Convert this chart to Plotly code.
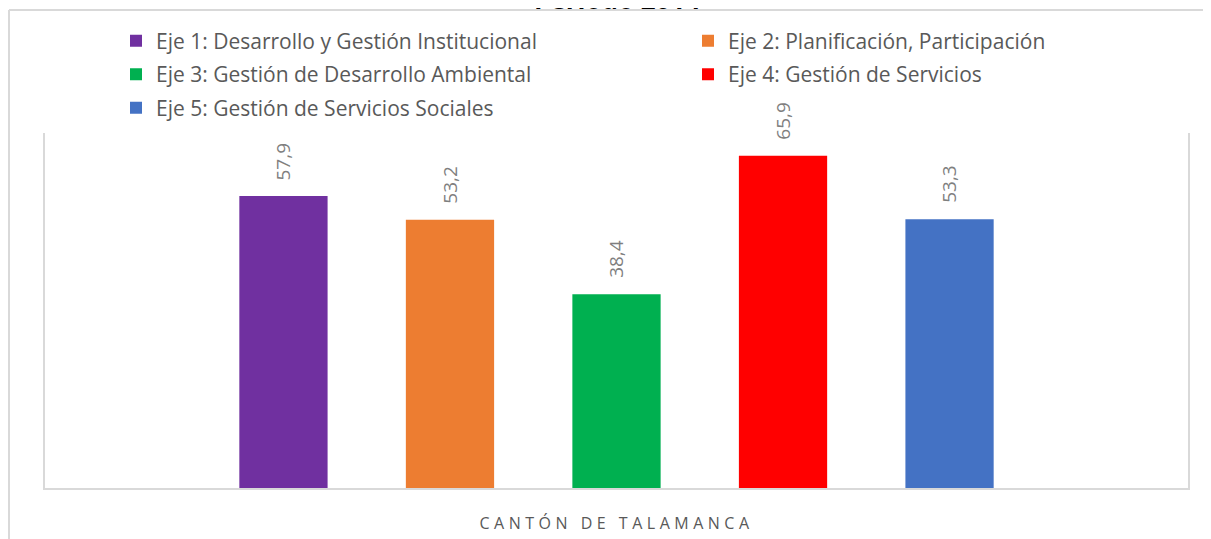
import plotly.graph_objects as go

ejes = [
    "Eje 1: Desarrollo y Gestión Institucional",
    "Eje 2: Planificación, Participación",
    "Eje 3: Gestión de Desarrollo Ambiental",
    "Eje 4: Gestión de Servicios",
    "Eje 5: Gestión de Servicios Sociales",
]
valores = [57.9, 53.2, 38.4, 65.9, 53.3]
colores = ["#7030A0", "#ED7D31", "#00B050", "#FF0000", "#4472C4"]
leyenda = ["legend", "legend2", "legend", "legend2", "legend"]
titulo_eje_x = "CANTÓN DE TALAMANCA"
titulo = "Periodo 2014"

FONT = "Open Sans"
W, H = 1203, 531          # page body has an 8px margin
L, R, T, B = 37, 23, 125, 51
PW, PH = W - L - R, H - T - B

fig = go.Figure()
for name, v, c, lg in zip(ejes, valores, colores, leyenda):
    fig.add_trace(go.Bar(
        x=[name], y=[v], name=name, marker=dict(color=c, line=dict(width=0)),
        legend=lg, legendgroup=name, hoverinfo="skip",
    ))
    fig.add_annotation(
        x=name, y=v, xref="x", yref="y",
        text=f"{v:.1f}".replace(".", ","), textangle=-90,
        showarrow=False, yanchor="bottom", xanchor="center", yshift=14,
        font=dict(family=FONT, size=19, color="#7F7F7F"),
    )

fig.add_annotation(
    x=0.5, y=1 + (T + 9.5) / PH, xref="paper", yref="paper", text=f"<b>{titulo}</b>",
    showarrow=False, xanchor="center", yanchor="middle",
    font=dict(family=FONT, size=26, color="#000000"),
)

line_col = "#D9D9D9"
# outer chart border (top and left visible)
top_y = 1 + (T - 2) / PH
left_x = (1 - L) / PW
fig.add_shape(type="line", xref="paper", yref="paper",
              x0=left_x, x1=(W + 10 - L) / PW, y0=top_y, y1=top_y,
              line=dict(color=line_col, width=2))
fig.add_shape(type="line", xref="paper", yref="paper",
              x0=left_x, x1=left_x, y0=top_y, y1=-(B + 10) / PH,
              line=dict(color=line_col, width=2))

legend_common = dict(
    xref="container", yref="container", y=1 - 12.5 / H,
    xanchor="left", yanchor="top", orientation="v",
    traceorder="grouped", tracegroupgap=3.2,
    font=dict(family=FONT, size=21, color="#595959"),
    bgcolor="rgba(0,0,0,0)",
)

fig.update_layout(
    width=W, height=H,
    margin=dict(l=L, r=R, t=T, b=B, autoexpand=False),
    paper_bgcolor="white", plot_bgcolor="white",
    barmode="overlay", bargap=0.47,
    font=dict(family=FONT, size=17, color="#595959"),
    legend=dict(x=108 / W, **legend_common),
    legend2=dict(x=680 / W, **legend_common),
    xaxis=dict(
        type="category", range=[-1.432, 5.432], showticklabels=False,
        showgrid=False, zeroline=False, showline=True, linecolor=line_col, linewidth=2,
        ticks="",
        title=dict(text=f"<span style='letter-spacing:4.5px'>{titulo_eje_x}</span>",
                   standoff=29,
                   font=dict(family=FONT, size=16, color="#595959")),
    ),
    yaxis=dict(
        range=[0, 70.4], showticklabels=False, showgrid=False, zeroline=False,
        showline=True, mirror=True, linecolor=line_col, linewidth=1.5, ticks="",
    ),
)

fig.write_html("out.html")
